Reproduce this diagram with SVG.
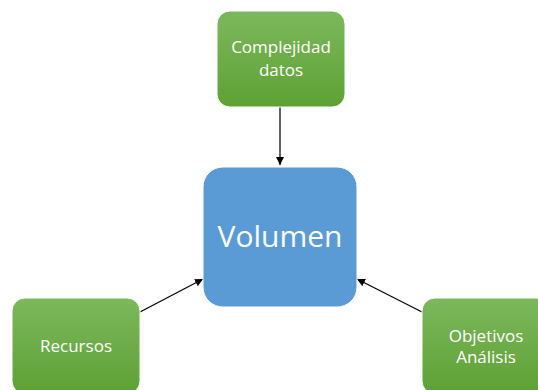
<svg xmlns="http://www.w3.org/2000/svg" width="538" height="390" viewBox="0 0 538 390">
<defs>
<linearGradient id="g" x1="0" y1="0" x2="0" y2="1">
<stop offset="0" stop-color="#7db85d"/>
<stop offset="1" stop-color="#5da133"/>
</linearGradient>
<marker id="ah" viewBox="0 0 10 10" refX="10" refY="5" markerWidth="8" markerHeight="8" markerUnits="userSpaceOnUse" orient="auto">
<path d="M0,0 L10,5 L0,10 z" fill="#000"/>
</marker>
<style>
.g{fill:url(#g);stroke:#ffffff;stroke-width:1}
.b{fill:#5b9bd5;stroke:#ffffff;stroke-width:1}
.t{font-family:"Open Sans","Liberation Sans",sans-serif;fill:#ffffff;text-anchor:middle}
.c{stroke:#000;stroke-width:1.2;fill:none;marker-end:url(#ah)}
</style>
</defs>
<rect width="538" height="390" fill="#ffffff"/>
<g id="connectors">
<line class="c" x1="280" y1="107" x2="280" y2="165"/>
<line class="c" x1="140" y1="312" x2="203" y2="279"/>
<line class="c" x1="422" y1="312" x2="357" y2="279"/>
</g>
<g id="complejidad">
<rect class="g" x="217" y="11" width="128" height="96" rx="13"/>
<text class="t" x="281" y="53" font-size="17">Complejidad</text>
<text class="t" x="281" y="76" font-size="17">datos</text>
</g>
<g id="volumen">
<rect class="b" x="203" y="167" width="154" height="140" rx="20"/>
<text class="t" x="280" y="247" font-size="30">Volumen</text>
</g>
<g id="recursos">
<rect class="g" x="12" y="298" width="128" height="96" rx="13"/>
<text class="t" x="76" y="352" font-size="17">Recursos</text>
</g>
<g id="objetivos">
<rect class="g" x="422" y="298" width="128" height="96" rx="13"/>
<text class="t" x="486" y="342" font-size="17">Objetivos</text>
<text class="t" x="486" y="363" font-size="17">Análisis</text>
</g>
</svg>
